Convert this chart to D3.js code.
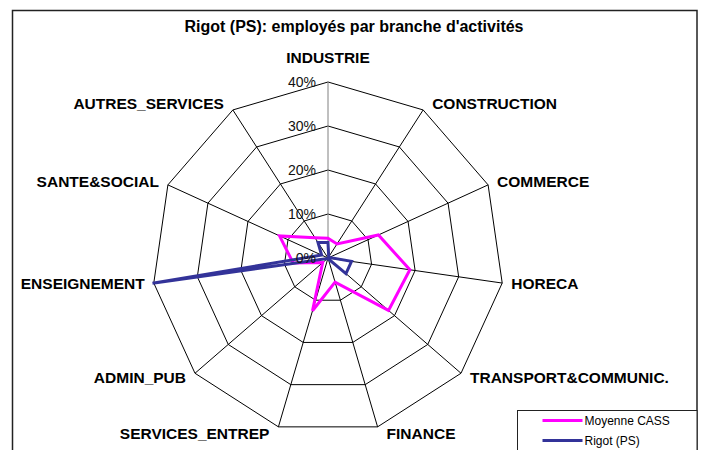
<!DOCTYPE html>
<html>
<head>
<meta charset="utf-8">
<script src="https://cdn.jsdelivr.net/npm/d3@7"></script>
<style>
  body { margin: 0; background: #fff; }
  text { font-family: "Liberation Sans", Arial, sans-serif; }
</style>
</head>
<body>
<div id="chart"></div>
<script>
// categories, clockwise from the top
var branches = ["INDUSTRIE", "CONSTRUCTION", "COMMERCE", "HORECA", "TRANSPORT&COMMUNIC.",
    "FINANCE", "SERVICES_ENTREP", "ADMIN_PUB", "ENSEIGNEMENT", "SANTE&SOCIAL", "AUTRES_SERVICES"];

// values in %
var moyenneCass = [4.5, 3.8, 12.6, 18.8, 18.2, 5.7, 12.5, 1.6, 8.0, 12.1, 5.5];
var rigotPs = [3.5, 0.3, 0.3, 5.4, 5.4, 0.2, 0.2, 0.2, 40.3, 1.6, 4.2];

var tickValues = [0, 10, 20, 30, 40];
var seriesNames = ["Moyenne CASS", "Rigot (PS)"];
var seriesColors = ["#ff00ff", "#333399"];

var svgWidth = 704;
var svgHeight = 450;
var cx = 328, cy = 258;
var maxRadius = 176;

var svg = d3.select("#chart")
    .append("svg")
    .attr("width", svgWidth)
    .attr("height", svgHeight);

// outer chart frame
svg.append("rect")
    .attr("x", 12.5)
    .attr("y", 10.5)
    .attr("width", 684.5)
    .attr("height", 460)
    .attr("fill", "#fff")
    .attr("stroke", "#222")
    .attr("stroke-width", 1.5);

svg.append("text")
    .attr("x", 354)
    .attr("y", 32)
    .attr("text-anchor", "middle")
    .attr("font-size", "16px")
    .attr("font-weight", "bold")
    .text("Rigot (PS): employés par branche d'activités");

var rScale = d3.scaleLinear().domain([0, 40]).range([0, maxRadius]);
var angle = d3.scaleLinear().domain([0, branches.length]).range([0, 2 * Math.PI]);

function point(i, v) {
    var a = angle(i);
    return [cx + rScale(v) * Math.sin(a), cy - rScale(v) * Math.cos(a)];
}

var chartGroup = svg.append("g");

// rings
tickValues.filter(d => d > 0).forEach(function(t) {
    var pts = branches.map((b, i) => point(i, t));
    chartGroup.append("polygon")
        .attr("points", pts.map(p => p.join(",")).join(" "))
        .attr("fill", "none")
        .attr("stroke", "#000")
        .attr("stroke-width", 1);
});

// spokes
branches.forEach(function(b, i) {
    var p = point(i, 40);
    chartGroup.append("line")
        .attr("x1", cx).attr("y1", cy)
        .attr("x2", p[0]).attr("y2", p[1])
        .attr("stroke", i === 0 ? "#808080" : "#000")
        .attr("stroke-width", 1);
});

// series
var line = d3.line().curve(d3.curveLinearClosed);
[moyenneCass, rigotPs].forEach(function(values, s) {
    chartGroup.append("path")
        .attr("d", line(values.map((v, i) => point(i, v))))
        .attr("fill", "none")
        .attr("stroke", seriesColors[s])
        .attr("stroke-width", 3)
        .attr("stroke-linejoin", "miter");
});

// tick labels
tickValues.forEach(function(t) {
    chartGroup.append("text")
        .attr("x", cx - 12)
        .attr("y", cy - rScale(t))
        .attr("dy", "0.35em")
        .attr("text-anchor", "end")
        .attr("font-size", "14px")
        .attr("fill", "#111")
        .text(t + "%");
});

// category labels
branches.forEach(function(b, i) {
    var a = angle(i);
    var p = point(i, 40);
    var s = Math.sin(a), c = Math.cos(a);
    var x = p[0], y = p[1] - c * 7, anchor = "middle";
    if (Math.abs(s) < 0.1) {
        y = p[1] - 24;
    } else if (s > 0) {
        x = p[0] + 9; anchor = "start";
    } else {
        x = p[0] - 9; anchor = "end";
    }
    chartGroup.append("text")
        .attr("x", x)
        .attr("y", y)
        .attr("dy", "0.35em")
        .attr("text-anchor", anchor)
        .attr("font-size", "15.5px")
        .attr("font-weight", "bold")
        .text(b);
});

// legend
var legend = svg.append("g").attr("transform", "translate(517.5, 410.5)");
legend.append("rect")
    .attr("width", 179.5)
    .attr("height", 60)
    .attr("fill", "#fff")
    .attr("stroke", "#222")
    .attr("stroke-width", 1);

seriesNames.forEach(function(name, s) {
    var y = 10 + s * 20;
    legend.append("line")
        .attr("x1", 25).attr("x2", 65)
        .attr("y1", y).attr("y2", y)
        .attr("stroke", seriesColors[s])
        .attr("stroke-width", 3);
    legend.append("text")
        .attr("x", 67)
        .attr("y", y)
        .attr("dy", "0.35em")
        .attr("font-size", "12px")
        .text(name);
});
</script>
</body>
</html>
